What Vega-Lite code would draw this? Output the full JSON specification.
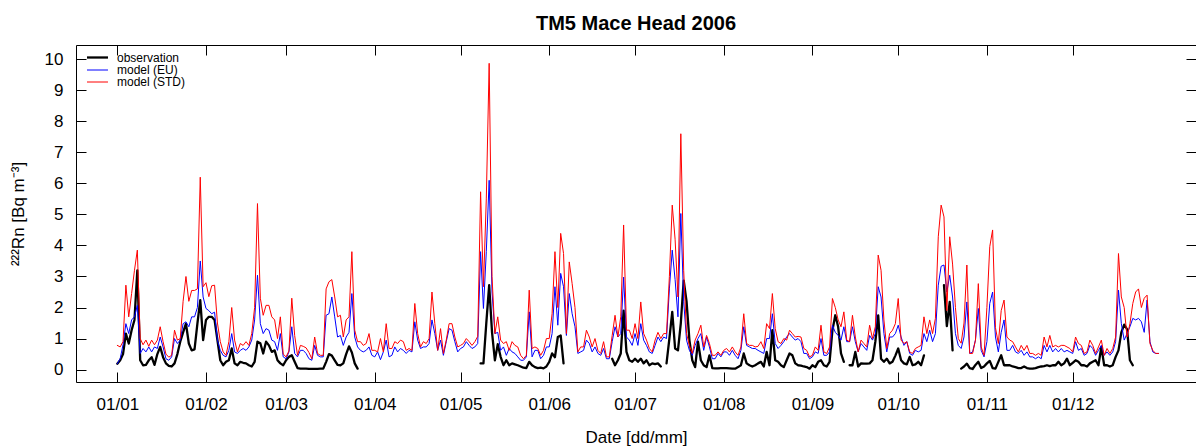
{
"$schema": "https://vega.github.io/schema/vega-lite/v6.json",
"width": 1120, "height": 337,
"autosize": "none",
"padding": {"left": 76, "top": 45, "right": 0, "bottom": 65},
"background": "white",
"title": {"text": "TM5 Mace Head 2006", "fontSize": 20, "fontWeight": "bold", "font": "Liberation Sans", "color": "black", "anchor": "middle", "frame": "group", "baseline": "alphabetic", "offset": -5},
"config": {"view": {"stroke": "black", "strokeWidth": 1}, "font": "Liberation Sans"},
"data": {"values": [
{"d":0,"o":0.19,"e":0.19,"s":0.78},{"d":1,"o":0.3,"e":0.35,"s":0.73},{"d":2,"o":0.5,"e":0.8,"s":0.9},{"d":3,"o":1.16,"e":1.48,"s":2.72},{"d":4,"o":0.84,"e":1.16,"s":1.7},{"d":5,"o":1.27,"e":1.6,"s":2.45},{"d":6,"o":1.6,"e":1.7,"s":3.2},{"d":7,"o":3.2,"e":2.07,"s":3.85},{"d":8,"o":0.3,"e":0.52,"s":1.0},{"d":9,"o":0.14,"e":0.68,"s":0.8},
{"d":10,"o":0.15,"e":0.57,"s":0.95},{"d":11,"o":0.3,"e":0.73,"s":0.75},{"d":12,"o":0.4,"e":0.57,"s":0.95},{"d":13,"o":0.15,"e":0.73,"s":0.8},{"d":14,"o":0.5,"e":0.68,"s":0.95},{"d":15,"o":0.73,"e":1.05,"s":1.38},{"d":16,"o":0.4,"e":0.73,"s":0.9},{"d":17,"o":0.2,"e":0.35,"s":0.5},{"d":18,"o":0.12,"e":0.3,"s":0.4},{"d":19,"o":0.1,"e":0.41,"s":0.46},
{"d":20,"o":0.2,"e":1.0,"s":1.27},{"d":21,"o":0.5,"e":0.84,"s":0.95},{"d":22,"o":0.9,"e":0.95,"s":1.0},{"d":23,"o":1.2,"e":1.48,"s":2.2},{"d":24,"o":1.48,"e":1.54,"s":3.0},{"d":25,"o":0.84,"e":1.38,"s":2.2},{"d":26,"o":0.62,"e":1.7,"s":2.55},{"d":27,"o":0.65,"e":1.7,"s":2.55},{"d":28,"o":1.48,"e":2.0,"s":2.6},{"d":29,"o":2.24,"e":3.5,"s":6.2},
{"d":30,"o":0.95,"e":2.34,"s":2.67},{"d":31,"o":1.6,"e":1.97,"s":2.8},{"d":32,"o":1.7,"e":1.9,"s":2.35},{"d":33,"o":1.7,"e":1.8,"s":2.7},{"d":34,"o":1.6,"e":1.85,"s":2.72},{"d":35,"o":0.95,"e":0.95,"s":1.5},{"d":36,"o":0.3,"e":0.62,"s":0.9},{"d":37,"o":0.14,"e":0.46,"s":0.57},{"d":38,"o":0.25,"e":0.41,"s":0.46},{"d":39,"o":0.3,"e":0.62,"s":0.9},
{"d":40,"o":0.68,"e":1.16,"s":2.0},{"d":41,"o":0.2,"e":0.57,"s":0.95},{"d":42,"o":0.14,"e":0.52,"s":0.57},{"d":43,"o":0.25,"e":0.62,"s":0.84},{"d":44,"o":0.22,"e":0.68,"s":0.78},{"d":45,"o":0.2,"e":0.62,"s":0.9},{"d":46,"o":0.14,"e":0.73,"s":0.78},{"d":47,"o":0.1,"e":0.95,"s":1.16},{"d":48,"o":0.25,"e":1.6,"s":2.0},{"d":49,"o":0.9,"e":3.04,"s":5.35},
{"d":50,"o":0.85,"e":1.48,"s":2.3},{"d":51,"o":0.52,"e":1.16,"s":1.75},{"d":52,"o":0.9,"e":1.32,"s":2.07},{"d":53,"o":0.78,"e":1.27,"s":2.07},{"d":54,"o":0.57,"e":0.95,"s":1.7},{"d":55,"o":0.62,"e":0.9,"s":1.6},{"d":56,"o":0.3,"e":0.62,"s":1.0},{"d":57,"o":0.2,"e":1.16,"s":1.7},{"d":58,"o":0.14,"e":0.41,"s":0.5},{"d":59,"o":0.3,"e":0.35,"s":0.41},
{"d":60,"o":0.41,"e":0.57,"s":0.6},{"d":61,"o":0.46,"e":1.38,"s":2.3},{"d":62,"o":0.25,"e":0.52,"s":1.1},{"d":63,"o":0.05,"e":0.41,"s":0.46},{"d":64,"o":0.03,"e":0.62,"s":0.78},{"d":65,"o":0.03,"e":0.62,"s":0.75},{"d":66,"o":0.03,"e":0.52,"s":0.7},{"d":67,"o":0.02,"e":0.35,"s":0.55},{"d":68,"o":0.02,"e":0.3,"s":0.35},{"d":69,"o":0.02,"e":0.78,"s":1.05},
{"d":70,"o":0.02,"e":0.46,"s":0.52},{"d":71,"o":0.03,"e":0.41,"s":0.46},{"d":72,"o":0.03,"e":0.41,"s":0.46},{"d":73,"o":0.25,"e":1.75,"s":2.6},{"d":74,"o":0.5,"e":1.8,"s":2.83},{"d":75,"o":0.45,"e":2.34,"s":2.9},{"d":76,"o":0.3,"e":1.7,"s":2.34},{"d":77,"o":0.15,"e":1.05,"s":1.7},{"d":78,"o":0.14,"e":1.1,"s":1.75},{"d":79,"o":0.2,"e":0.78,"s":1.05},
{"d":80,"o":0.5,"e":1.05,"s":1.6},{"d":81,"o":0.75,"e":1.2,"s":1.7},{"d":82,"o":0.55,"e":2.45,"s":3.8},{"d":83,"o":0.2,"e":1.05,"s":1.27},{"d":84,"o":0.03,"e":0.73,"s":0.9},{"d":85,"o":null,"e":0.62,"s":0.9},{"d":86,"o":null,"e":0.57,"s":0.78},{"d":87,"o":null,"e":0.62,"s":0.84},{"d":88,"o":null,"e":0.73,"s":1.16},{"d":89,"o":null,"e":0.46,"s":0.62},
{"d":90,"o":null,"e":0.41,"s":0.62},{"d":91,"o":null,"e":0.57,"s":0.57},{"d":92,"o":null,"e":0.32,"s":1.0},{"d":93,"o":null,"e":0.57,"s":0.57},{"d":94,"o":null,"e":0.95,"s":1.48},{"d":95,"o":null,"e":0.41,"s":0.68},{"d":96,"o":null,"e":0.46,"s":0.68},{"d":97,"o":null,"e":0.73,"s":0.9},{"d":98,"o":null,"e":0.57,"s":0.84},{"d":99,"o":null,"e":0.68,"s":0.95},
{"d":100,"o":null,"e":0.62,"s":0.9},{"d":101,"o":null,"e":0.52,"s":0.62},{"d":102,"o":null,"e":0.62,"s":0.68},{"d":103,"o":null,"e":0.57,"s":0.62},{"d":104,"o":null,"e":1.54,"s":2.13},{"d":105,"o":null,"e":0.95,"s":1.16},{"d":106,"o":null,"e":0.68,"s":0.73},{"d":107,"o":null,"e":0.73,"s":0.9},{"d":108,"o":null,"e":0.73,"s":0.84},{"d":109,"o":null,"e":0.84,"s":1.0},
{"d":110,"o":null,"e":1.6,"s":2.5},{"d":111,"o":null,"e":1.16,"s":1.48},{"d":112,"o":null,"e":0.62,"s":0.62},{"d":113,"o":null,"e":0.95,"s":1.32},{"d":114,"o":null,"e":0.46,"s":0.52},{"d":115,"o":null,"e":0.9,"s":0.95},{"d":116,"o":null,"e":1.32,"s":1.48},{"d":117,"o":null,"e":1.27,"s":1.48},{"d":118,"o":null,"e":0.9,"s":1.05},{"d":119,"o":null,"e":0.57,"s":0.73},
{"d":120,"o":null,"e":0.68,"s":0.78},{"d":121,"o":null,"e":0.73,"s":0.84},{"d":122,"o":null,"e":0.9,"s":1.0},{"d":123,"o":null,"e":0.78,"s":0.9},{"d":124,"o":null,"e":0.68,"s":0.78},{"d":125,"o":null,"e":0.73,"s":0.9},{"d":126,"o":null,"e":0.84,"s":1.07},{"d":127,"o":0.2,"e":3.8,"s":5.73},{"d":128,"o":0.2,"e":1.97,"s":2.67},{"d":129,"o":1.5,"e":3.8,"s":5.5},
{"d":130,"o":2.72,"e":6.1,"s":9.87},{"d":131,"o":1.2,"e":2.5,"s":3.0},{"d":132,"o":0.3,"e":1.16,"s":1.16},{"d":133,"o":0.82,"e":1.2,"s":1.7},{"d":134,"o":0.41,"e":0.62,"s":0.95},{"d":135,"o":0.14,"e":0.73,"s":0.84},{"d":136,"o":0.3,"e":0.46,"s":0.9},{"d":137,"o":0.14,"e":0.68,"s":0.62},{"d":138,"o":0.2,"e":0.57,"s":0.9},{"d":139,"o":0.17,"e":0.52,"s":0.78},
{"d":140,"o":0.14,"e":0.41,"s":0.73},{"d":141,"o":0.1,"e":0.3,"s":0.46},{"d":142,"o":0.06,"e":0.3,"s":0.35},{"d":143,"o":0.05,"e":0.41,"s":0.46},{"d":144,"o":0.25,"e":1.86,"s":2.56},{"d":145,"o":0.14,"e":0.41,"s":0.68},{"d":146,"o":0.08,"e":0.62,"s":0.73},{"d":147,"o":0.05,"e":0.62,"s":0.68},{"d":148,"o":0.06,"e":0.35,"s":0.46},{"d":149,"o":0.04,"e":0.46,"s":0.62},
{"d":150,"o":0.1,"e":0.73,"s":1.0},{"d":151,"o":0.25,"e":0.73,"s":1.0},{"d":152,"o":0.52,"e":1.16,"s":1.8},{"d":153,"o":0.4,"e":2.67,"s":3.8},{"d":154,"o":1.05,"e":1.43,"s":2.0},{"d":155,"o":1.1,"e":3.1,"s":4.39},{"d":156,"o":0.2,"e":2.67,"s":3.74},{"d":157,"o":null,"e":1.1,"s":1.16},{"d":158,"o":null,"e":2.45,"s":3.47},{"d":159,"o":null,"e":1.8,"s":2.77},
{"d":160,"o":null,"e":1.38,"s":2.0},{"d":161,"o":null,"e":0.52,"s":0.57},{"d":162,"o":null,"e":0.57,"s":0.73},{"d":163,"o":null,"e":0.62,"s":0.73},{"d":164,"o":null,"e":0.95,"s":1.27},{"d":165,"o":null,"e":0.84,"s":1.05},{"d":166,"o":null,"e":0.57,"s":0.73},{"d":167,"o":null,"e":0.73,"s":1.0},{"d":168,"o":null,"e":0.52,"s":0.62},{"d":169,"o":null,"e":0.46,"s":0.52},
{"d":170,"o":null,"e":0.68,"s":0.9},{"d":171,"o":null,"e":0.35,"s":0.41},{"d":172,"o":null,"e":0.35,"s":0.41},{"d":173,"o":0.35,"e":0.9,"s":1.1},{"d":174,"o":0.14,"e":1.38,"s":1.75},{"d":175,"o":0.3,"e":1.05,"s":1.05},{"d":176,"o":0.52,"e":1.16,"s":1.7},{"d":177,"o":1.9,"e":2.98,"s":4.66},{"d":178,"o":0.57,"e":1.05,"s":1.27},{"d":179,"o":0.3,"e":0.95,"s":1.27},
{"d":180,"o":0.25,"e":0.78,"s":1.0},{"d":181,"o":0.35,"e":1.16,"s":1.48},{"d":182,"o":0.25,"e":0.78,"s":1.0},{"d":183,"o":0.35,"e":1.48,"s":2.18},{"d":184,"o":0.2,"e":0.95,"s":1.16},{"d":185,"o":0.3,"e":0.78,"s":0.95},{"d":186,"o":0.14,"e":0.57,"s":0.68},{"d":187,"o":0.2,"e":0.52,"s":0.57},{"d":188,"o":0.18,"e":0.78,"s":0.95},{"d":189,"o":0.2,"e":1.05,"s":1.2},
{"d":190,"o":0.1,"e":0.9,"s":1.0},{"d":191,"o":null,"e":1.05,"s":1.16},{"d":192,"o":0.2,"e":1.0,"s":1.16},{"d":193,"o":1.0,"e":2.6,"s":3.0},{"d":194,"o":1.86,"e":3.85,"s":5.3},{"d":195,"o":0.68,"e":2.9,"s":4.2},{"d":196,"o":0.62,"e":1.7,"s":2.34},{"d":197,"o":1.5,"e":5.03,"s":7.6},{"d":198,"o":2.87,"e":2.2,"s":3.2},{"d":199,"o":2.2,"e":0.95,"s":1.16},
{"d":200,"o":0.95,"e":0.62,"s":0.78},{"d":201,"o":0.3,"e":0.46,"s":0.52},{"d":202,"o":0.08,"e":0.78,"s":0.95},{"d":203,"o":0.9,"e":1.0,"s":1.16},{"d":204,"o":0.3,"e":1.16,"s":1.43},{"d":205,"o":0.14,"e":0.62,"s":0.73},{"d":206,"o":0.08,"e":1.05,"s":1.1},{"d":207,"o":0.46,"e":0.73,"s":0.84},{"d":208,"o":0.05,"e":0.35,"s":0.46},{"d":209,"o":0.04,"e":0.35,"s":0.46},
{"d":210,"o":0.04,"e":0.52,"s":0.57},{"d":211,"o":0.05,"e":0.41,"s":0.46},{"d":212,"o":0.05,"e":0.57,"s":0.62},{"d":213,"o":0.05,"e":0.57,"s":0.68},{"d":214,"o":0.04,"e":0.46,"s":0.57},{"d":215,"o":0.03,"e":0.62,"s":0.73},{"d":216,"o":0.03,"e":0.46,"s":0.57},{"d":217,"o":0.08,"e":0.35,"s":0.46},{"d":218,"o":0.14,"e":0.62,"s":0.73},{"d":219,"o":0.52,"e":1.38,"s":1.8},
{"d":220,"o":0.2,"e":0.78,"s":0.84},{"d":221,"o":0.14,"e":0.73,"s":0.78},{"d":222,"o":0.1,"e":0.68,"s":0.78},{"d":223,"o":0.14,"e":0.68,"s":0.73},{"d":224,"o":0.2,"e":0.62,"s":0.75},{"d":225,"o":0.25,"e":0.57,"s":0.9},{"d":226,"o":0.1,"e":0.52,"s":0.68},{"d":227,"o":0.57,"e":1.0,"s":1.48},{"d":228,"o":0.14,"e":1.0,"s":1.32},{"d":229,"o":1.27,"e":1.8,"s":2.45},
{"d":230,"o":0.3,"e":0.84,"s":1.32},{"d":231,"o":0.25,"e":0.68,"s":0.9},{"d":232,"o":0.14,"e":0.78,"s":0.84},{"d":233,"o":0.08,"e":0.9,"s":1.0},{"d":234,"o":0.3,"e":1.05,"s":0.95},{"d":235,"o":0.52,"e":1.16,"s":1.27},{"d":236,"o":0.46,"e":1.05,"s":1.16},{"d":237,"o":0.2,"e":0.95,"s":1.05},{"d":238,"o":0.14,"e":1.0,"s":1.07},{"d":239,"o":0.13,"e":0.9,"s":1.05},
{"d":240,"o":0.1,"e":0.52,"s":0.68},{"d":241,"o":0.08,"e":0.52,"s":0.62},{"d":242,"o":0.03,"e":0.35,"s":0.41},{"d":243,"o":0.14,"e":0.41,"s":0.46},{"d":244,"o":0.08,"e":0.57,"s":0.73},{"d":245,"o":0.25,"e":0.52,"s":0.62},{"d":246,"o":0.3,"e":1.0,"s":1.43},{"d":247,"o":0.14,"e":0.46,"s":0.57},{"d":248,"o":0.1,"e":0.46,"s":0.52},{"d":249,"o":0.25,"e":0.57,"s":0.73},
{"d":250,"o":1.27,"e":1.43,"s":2.29},{"d":251,"o":1.75,"e":1.2,"s":2.0},{"d":252,"o":1.38,"e":1.1,"s":1.6},{"d":253,"o":0.52,"e":0.95,"s":1.38},{"d":254,"o":0.25,"e":1.38,"s":1.86},{"d":255,"o":null,"e":0.9,"s":0.95},{"d":256,"o":0.14,"e":0.9,"s":0.9},{"d":257,"o":0.14,"e":1.38,"s":1.75},{"d":258,"o":0.57,"e":0.9,"s":1.05},{"d":259,"o":0.1,"e":0.57,"s":0.57},
{"d":260,"o":0.2,"e":0.84,"s":0.95},{"d":261,"o":0.19,"e":0.73,"s":0.84},{"d":262,"o":0.19,"e":0.62,"s":0.73},{"d":263,"o":0.2,"e":1.1,"s":1.43},{"d":264,"o":0.3,"e":0.95,"s":1.0},{"d":265,"o":0.9,"e":1.16,"s":1.38},{"d":266,"o":1.75,"e":2.67,"s":3.69},{"d":267,"o":0.35,"e":2.34,"s":3.2},{"d":268,"o":0.25,"e":1.16,"s":1.6},{"d":269,"o":0.35,"e":0.57,"s":0.68},
{"d":270,"o":0.2,"e":1.05,"s":1.16},{"d":271,"o":0.25,"e":1.05,"s":1.27},{"d":272,"o":0.45,"e":1.16,"s":1.48},{"d":273,"o":0.68,"e":1.43,"s":2.29},{"d":274,"o":0.3,"e":1.05,"s":0.95},{"d":275,"o":0.2,"e":0.78,"s":0.84},{"d":276,"o":0.17,"e":0.9,"s":0.9},{"d":277,"o":0.41,"e":0.52,"s":0.57},{"d":278,"o":0.14,"e":0.46,"s":0.52},{"d":279,"o":0.17,"e":0.62,"s":0.68},
{"d":280,"o":0.25,"e":0.57,"s":0.73},{"d":281,"o":0.14,"e":0.62,"s":0.78},{"d":282,"o":0.46,"e":1.16,"s":1.7},{"d":283,"o":null,"e":0.9,"s":1.16},{"d":284,"o":null,"e":1.27,"s":1.6},{"d":285,"o":null,"e":0.9,"s":1.16},{"d":286,"o":null,"e":1.16,"s":1.65},{"d":287,"o":null,"e":2.72,"s":4.28},{"d":288,"o":null,"e":3.33,"s":5.3},{"d":289,"o":2.72,"e":3.37,"s":4.92},
{"d":290,"o":1.4,"e":2.5,"s":1.9},{"d":291,"o":2.18,"e":3.04,"s":4.28},{"d":292,"o":0.62,"e":2.34,"s":3.4},{"d":293,"o":null,"e":1.16,"s":2.0},{"d":294,"o":null,"e":0.78,"s":1.0},{"d":295,"o":0.03,"e":0.68,"s":0.85},{"d":296,"o":0.1,"e":1.05,"s":1.5},{"d":297,"o":0.19,"e":2.18,"s":3.37},{"d":298,"o":0.05,"e":0.52,"s":0.52},{"d":299,"o":0.02,"e":0.57,"s":0.52},
{"d":300,"o":0.15,"e":0.95,"s":0.95},{"d":301,"o":0.25,"e":1.97,"s":2.77},{"d":302,"o":0.05,"e":0.62,"s":0.73},{"d":303,"o":0.1,"e":0.41,"s":0.46},{"d":304,"o":0.2,"e":0.9,"s":2.0},{"d":305,"o":0.28,"e":2.13,"s":3.96},{"d":306,"o":0.05,"e":2.5,"s":4.5},{"d":307,"o":0.03,"e":1.05,"s":1.35},{"d":308,"o":0.25,"e":0.57,"s":0.84},{"d":309,"o":0.46,"e":1.2,"s":1.9},
{"d":310,"o":0.14,"e":1.6,"s":2.24},{"d":311,"o":0.14,"e":0.62,"s":1.05},{"d":312,"o":0.14,"e":0.62,"s":0.95},{"d":313,"o":0.1,"e":0.78,"s":0.9},{"d":314,"o":0.08,"e":0.57,"s":0.73},{"d":315,"o":0.05,"e":0.52,"s":0.57},{"d":316,"o":0.05,"e":0.62,"s":0.78},{"d":317,"o":0.1,"e":0.46,"s":0.62},{"d":318,"o":0.05,"e":0.57,"s":0.78},{"d":319,"o":0.03,"e":0.41,"s":0.52},
{"d":320,"o":0.03,"e":0.41,"s":0.52},{"d":321,"o":0.05,"e":0.35,"s":0.46},{"d":322,"o":0.08,"e":0.41,"s":0.52},{"d":323,"o":0.1,"e":0.35,"s":0.46},{"d":324,"o":0.11,"e":0.78,"s":1.05},{"d":325,"o":0.14,"e":0.57,"s":0.73},{"d":326,"o":0.11,"e":0.78,"s":1.1},{"d":327,"o":0.14,"e":0.57,"s":0.73},{"d":328,"o":0.14,"e":0.68,"s":0.78},{"d":329,"o":0.25,"e":0.57,"s":0.73},
{"d":330,"o":0.14,"e":0.68,"s":0.78},{"d":331,"o":0.2,"e":0.57,"s":0.78},{"d":332,"o":0.35,"e":0.62,"s":0.73},{"d":333,"o":0.14,"e":0.57,"s":0.68},{"d":334,"o":0.22,"e":0.52,"s":0.57},{"d":335,"o":0.3,"e":0.9,"s":1.05},{"d":336,"o":0.25,"e":0.62,"s":0.84},{"d":337,"o":0.14,"e":0.68,"s":0.78},{"d":338,"o":0.14,"e":0.46,"s":0.52},{"d":339,"o":0.1,"e":0.52,"s":0.57},
{"d":340,"o":0.2,"e":0.78,"s":0.95},{"d":341,"o":0.25,"e":0.68,"s":0.78},{"d":342,"o":0.3,"e":0.46,"s":0.52},{"d":343,"o":0.14,"e":0.62,"s":0.73},{"d":344,"o":0.73,"e":0.78,"s":0.95},{"d":345,"o":0.14,"e":0.46,"s":0.46},{"d":346,"o":0.14,"e":0.57,"s":0.68},{"d":347,"o":0.1,"e":0.46,"s":0.52},{"d":348,"o":0.14,"e":0.57,"s":0.68},{"d":349,"o":0.41,"e":0.9,"s":1.05},
{"d":350,"o":0.62,"e":2.56,"s":3.74},{"d":351,"o":1.2,"e":1.48,"s":2.34},{"d":352,"o":1.45,"e":0.95,"s":2.0},{"d":353,"o":1.3,"e":1.16,"s":1.05},{"d":354,"o":0.3,"e":1.38,"s":1.48},{"d":355,"o":0.14,"e":1.65,"s":2.13},{"d":356,"o":null,"e":1.6,"s":2.5},{"d":357,"o":null,"e":1.65,"s":2.6},{"d":358,"o":null,"e":1.54,"s":2.0},{"d":359,"o":null,"e":1.2,"s":2.3},
{"d":360,"o":null,"e":2.24,"s":2.4},{"d":361,"o":null,"e":0.9,"s":0.84},{"d":362,"o":null,"e":0.57,"s":0.62},{"d":363,"o":null,"e":0.52,"s":0.52},{"d":364,"o":null,"e":0.52,"s":0.52}
]},
"transform": [{"fold": ["o", "e", "s"], "as": ["k", "v"]}],
"resolve": {"axis": {"x": "independent", "y": "independent"}},
"layer": [
{
"mark": {"type": "line", "invalid": "break-paths-show-domains", "strokeJoin": "round", "strokeCap": "round", "clip": true},
"encoding": {
"x": {"field": "d", "type": "quantitative", "scale": {"domain": [-14.44, 377.1], "nice": false, "zero": false},
"axis": {"orient": "bottom", "values": [0,31,59,90,120,151,181,212,243,273,304,334], "labelExpr": "'01/' + (indexof([0,31,59,90,120,151,181,212,243,273,304,334], datum.value) < 9 ? '0' : '') + (indexof([0,31,59,90,120,151,181,212,243,273,304,334], datum.value) + 1)", "title": "Date [dd/mm]", "grid": false, "domain": false, "tickSize": -10, "tickColor": "black", "labelPadding": 24, "labelFontSize": 17, "labelFont": "Liberation Sans", "labelColor": "black", "labelFlush": false, "labelOverlap": false, "titleFontSize": 17, "titleFont": "Liberation Sans", "titleFontWeight": "normal", "titleColor": "black", "titlePadding": 17}},
"y": {"field": "v", "type": "quantitative", "scale": {"domain": [-0.4, 10.46], "nice": false, "zero": false},
"axis": {"orient": "left", "values": [0,1,2,3,4,5,6,7,8,9,10], "title": "²²²Rn [Bq m⁻³]", "grid": false, "domain": false, "tickSize": -10, "tickColor": "black", "labelPadding": 23, "labelFontSize": 17, "labelFont": "Liberation Sans", "labelColor": "black", "labelFlush": false, "labelOverlap": false, "titleFontSize": 17, "titleFont": "Liberation Sans", "titleFontWeight": "normal", "titleColor": "black", "titlePadding": 17}},
"color": {"field": "k", "type": "nominal", "scale": {"domain": ["o", "e", "s"], "range": ["#000000", "#0000ff", "#ff0000"]},
"legend": {"orient": "none", "legendX": 15, "legendY": 6, "title": null, "labelExpr": "datum.value == 'o' ? 'observation' : datum.value == 'e' ? 'model (EU)' : 'model (STD)'", "labelFontSize": 12, "labelFont": "Liberation Sans", "labelColor": "black", "symbolType": "M-2,0H2", "symbolSize": 110, "rowPadding": -5, "labelOffset": 13, "padding": 0, "labelLimit": 300}},
"strokeWidth": {"field": "k", "type": "nominal", "scale": {"type": "ordinal", "domain": ["o", "e", "s"], "range": [2.3, 1, 1]}}
}
},
{
"mark": {"type": "line", "strokeOpacity": 0},
"encoding": {
"x": {"field": "d", "type": "quantitative", "axis": {"orient": "top", "values": [0,31,59,90,120,151,181,212,243,273,304,334], "labels": false, "title": null, "grid": false, "domain": false, "tickSize": -10, "tickColor": "black"}},
"y": {"field": "v", "type": "quantitative", "axis": {"orient": "right", "values": [0,1,2,3,4,5,6,7,8,9,10], "labels": false, "title": null, "grid": false, "domain": false, "tickSize": -10, "tickColor": "black"}}
}
}
]
}
